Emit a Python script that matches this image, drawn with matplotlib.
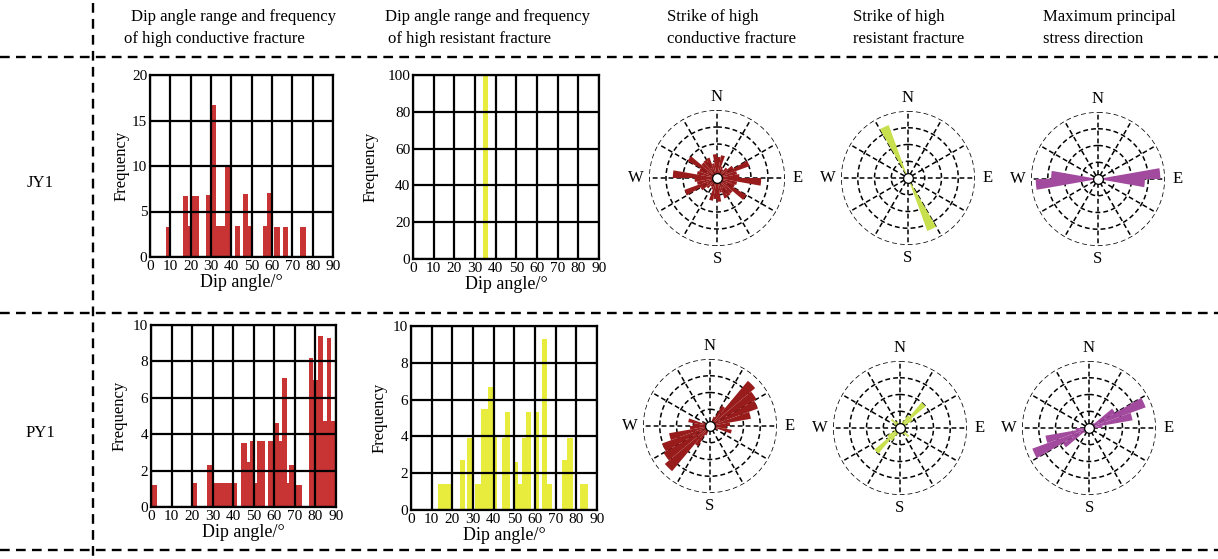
import matplotlib
matplotlib.use('Agg')
import matplotlib.pyplot as plt
from matplotlib.lines import Line2D
import numpy as np

plt.rcParams['font.family'] = ['Liberation Serif', 'DejaVu Serif']
plt.rcParams['lines.scale_dashes'] = False

# ---- data: dip angle histograms (bin lower edge, upper edge, frequency) ----
jy1_cond_lo = [8.0, 16.4, 18.8, 20.0, 27.5, 30.4, 32.4, 36.8, 41.6, 45.5, 48.3, 55.6, 57.3, 61.2, 65.5, 74.0]
jy1_cond_hi = [10.3, 18.8, 20.0, 24.1, 29.8, 32.4, 36.8, 39.6, 44.2, 48.3, 49.9, 57.3, 59.7, 63.8, 68.1, 76.6]
jy1_cond_freq = [3.3, 6.7, 3.4, 6.7, 6.8, 16.7, 3.4, 10.0, 3.4, 6.9, 3.4, 3.4, 7.0, 3.3, 3.3, 3.3]

jy1_res_lo = [34.1]
jy1_res_hi = [36.2]
jy1_res_freq = [100]

py1_cond_lo = [0.0, 20.3, 27.4, 29.8, 43.9, 46.5, 48.1, 50.1, 51.7, 56.9, 59.2, 62.1, 63.7, 66.3, 67.3, 70.2,
               76.7, 78.9, 81.2, 83.5, 85.4, 87.5]
py1_cond_hi = [2.8, 22.5, 29.8, 42.0, 46.5, 48.1, 50.1, 51.7, 55.3, 59.2, 62.1, 63.7, 66.3, 67.3, 70.2, 73.4,
               78.9, 81.2, 83.5, 85.4, 87.5, 89.6]
py1_cond_freq = [1.2, 1.3, 2.3, 1.3, 3.5, 2.5, 3.6, 1.3, 3.6, 3.6, 4.6, 3.6, 7.1, 1.3, 2.3, 1.2,
                 8.2, 7.0, 9.4, 4.7, 9.3, 4.7]

py1_res_lo = [13.2, 23.7, 27.2, 31.2, 33.7, 37.4, 39.5, 43.8, 45.4, 49.8, 51.7, 53.9, 55.6, 59.6, 63.6, 65.9,
              73.3, 75.5, 82.0]
py1_res_hi = [19.6, 26.1, 29.6, 33.7, 37.4, 39.5, 41.7, 45.4, 47.7, 51.7, 53.9, 55.6, 58.3, 61.8, 65.9, 68.0,
              75.5, 78.4, 85.7]
py1_res_freq = [1.4, 2.7, 3.9, 1.4, 5.5, 6.7, 4.1, 3.9, 5.3, 2.6, 1.4, 3.9, 5.3, 5.3, 9.3, 1.4,
                2.7, 3.9, 1.4]

# ---- data: rose diagrams, strike bins 0-10 ... 170-180 deg (relative length, outer ring = 1) ----
strike_bins = np.arange(0, 180, 10)
jy1_cond_rose = [0.31, 0.34, 0.18, 0.15, 0.20, 0.28, 0.51, 0.30, 0.33,
                 0.65, 0.30, 0.28, 0.50, 0.30, 0.31, 0.32, 0.22, 0.35]
jy1_res_rose = [0, 0, 0, 0, 0, 0, 0, 0, 0,
                0, 0, 0, 0, 0, 0, 0.84, 0, 0]
jy1_stress_rose = [0, 0, 0, 0, 0, 0, 0, 0, 0.93,
                   0.70, 0, 0, 0, 0, 0, 0, 0, 0]
py1_cond_rose = [0, 0, 0.15, 0.35, 0.88, 0.80, 0.76, 0.62, 0.30,
                 0.25, 0.33, 0.12, 0, 0, 0, 0, 0, 0]
py1_res_rose = [0, 0, 0.12, 0.22, 0.50, 0.22, 0.10, 0, 0,
                0, 0, 0, 0.10, 0.18, 0.12, 0.10, 0, 0]
py1_stress_rose = [0, 0, 0, 0, 0.10, 0.45, 0.90, 0.66, 0.20,
                   0, 0, 0, 0, 0, 0, 0, 0, 0]

headers = [("Dip angle range and frequency", "of high conductive fracture"),
           ("Dip angle range and frequency", "of high resistant fracture"),
           ("Strike of high", "conductive fracture"),
           ("Strike of high", "resistant fracture"),
           ("Maximum principal", "stress direction")]
wells = ["JY1", "PY1"]

c_red = '#C83434'
c_yellow = '#E8EC3C'
c_rose_red = '#981C1C'
c_rose_yel = '#C9E04E'
c_purple = '#A24A9E'

W, H = 1218, 559
fig = plt.figure(figsize=(W / 100, H / 100), dpi=100)


def rect(x0, y0, x1, y1):
    return [x0 / W, 1 - y1 / H, (x1 - x0) / W, (y1 - y0) / H]


def hist_panel(box, lo, hi, freq, color, ymax, ystep, ylpad):
    ax = fig.add_axes(rect(*box))
    lo = np.array(lo)
    hi = np.array(hi)
    ax.bar(lo, freq, width=hi - lo, align='edge', color=color, edgecolor='none', zorder=1)
    ax.set_xlim(0, 90)
    ax.set_ylim(0, ymax)
    ax.set_xticks(np.arange(0, 91, 10))
    ax.set_yticks(np.arange(0, ymax + 0.1, ystep))
    ax.grid(True, color='black', linewidth=1.6, zorder=3)
    ax.set_axisbelow(False)
    for s in ax.spines.values():
        s.set_linewidth(1.6)
        s.set_zorder(4)
    ax.tick_params(length=0, labelsize=11, pad=2)
    ax.set_xlabel('Dip angle/°', fontsize=13, labelpad=1)
    ax.set_ylabel('Frequency', fontsize=12, labelpad=ylpad)
    return ax


hist_panel((150, 75, 333, 257), jy1_cond_lo, jy1_cond_hi, jy1_cond_freq, c_red, 20, 5, 2)
hist_panel((413, 75, 599, 259), jy1_res_lo, jy1_res_hi, jy1_res_freq, c_yellow, 100, 20, 6)
hist_panel((151, 325, 336, 507), py1_cond_lo, py1_cond_hi, py1_cond_freq, c_red, 10, 2, 4)
hist_panel((411, 326, 597, 510), py1_res_lo, py1_res_hi, py1_res_freq, c_yellow, 10, 2, 4)


def rose_panel(cx, cy, r, vals, color):
    ax = fig.add_axes(rect(cx - r, cy - r, cx + r, cy + r), projection='polar')
    ax.set_theta_zero_location('N')
    ax.set_theta_direction(-1)
    ax.set_ylim(0, 1)
    ax.grid(False)
    ax.set_xticks([])
    ax.set_yticks([])
    ax.spines['polar'].set_visible(False)
    ax.patch.set_alpha(0)
    t = np.linspace(0, 2 * np.pi, 361)
    for rr in [0.25, 0.5, 0.75, 1.0]:
        ax.plot(t, np.full_like(t, rr), color='black', lw=1.1, dashes=(3.5, 2.2), zorder=1)
    for a in range(0, 360, 30):
        ax.plot([np.deg2rad(a)] * 2, [0.06, 1.0], color='black', lw=1.1, dashes=(3.5, 2.2), zorder=1)
    th = np.deg2rad(np.concatenate([strike_bins + 5, strike_bins + 185]))
    vv = np.concatenate([vals, vals])
    ax.bar(th, vv, width=np.deg2rad(10), bottom=0, color=color, edgecolor='none', zorder=2)
    ax.plot([0], [0], 'o', ms=7, mfc='white', mec='black', mew=0.9, zorder=3, clip_on=False)
    lr = 1.19
    for lab, a in zip(['N', 'E', 'S', 'W'], [0, 90, 180, 270]):
        ax.text(np.deg2rad(a), lr, lab, ha='center', va='center', fontsize=12, clip_on=False)
    return ax


rose_panel(717, 178, 68, jy1_cond_rose, c_rose_red)
rose_panel(908, 178, 67, jy1_res_rose, c_rose_yel)
rose_panel(1098, 179, 67, jy1_stress_rose, c_purple)
rose_panel(710, 426, 67, py1_cond_rose, c_rose_red)
rose_panel(900, 428, 67, py1_res_rose, c_rose_yel)
rose_panel(1089, 428, 67, py1_stress_rose, c_purple)

# headers
hx1 = [131, 385, 667, 853, 1043]
hx2 = [124, 388, 667, 853, 1043]
for (l1, l2), x1, x2 in zip(headers, hx1, hx2):
    fig.text(x1 / W, 1 - 17 / H, l1, fontsize=12, ha='left', va='center')
    fig.text(x2 / W, 1 - 39 / H, l2, fontsize=12, ha='left', va='center')

# well labels
for name, y in zip(wells, [183, 433]):
    fig.text(40 / W, 1 - y / H, name, fontsize=12, ha='center', va='center')

# dashed separators
sep = dict(color='black', lw=1.7, dashes=(7, 4.5), transform=fig.transFigure)
for y in [57, 313, 550]:
    fig.add_artist(Line2D([0, 1], [1 - y / H] * 2, **sep))
fig.add_artist(Line2D([93 / W] * 2, [1 - 3 / H, 1 - 556 / H], **sep))

fig.savefig('out.png', dpi=100)
